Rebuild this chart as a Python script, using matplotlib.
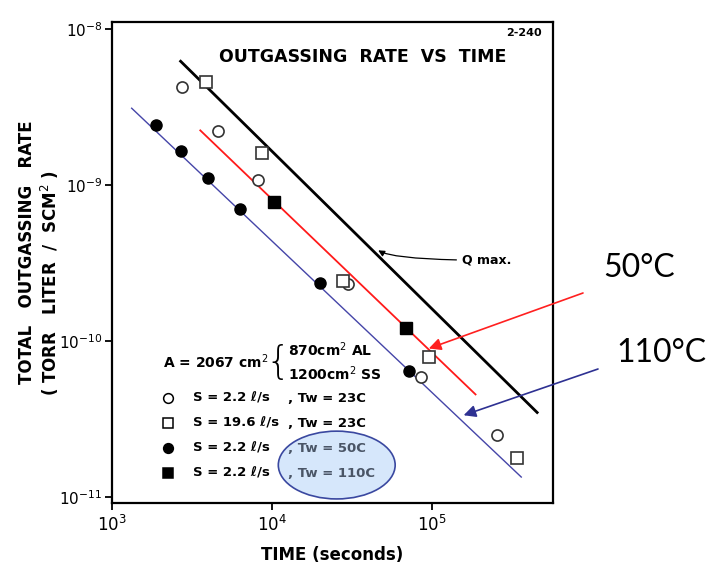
import matplotlib
matplotlib.use('Agg')
import matplotlib.pyplot as plt
import matplotlib.ticker as ticker
from matplotlib.patches import Ellipse, ConnectionPatch

# data (time in s, rate in torr l / s cm2)
t_open_circle = [2760, 4620, 8190, 30000, 85400, 2.57e5]
q_open_circle = [4.25e-9, 2.22e-9, 1.08e-9, 2.32e-10, 5.9e-11, 2.5e-11]
t_open_square = [3890, 8670, 28000, 95500, 3.4e5]
q_open_square = [4.57e-9, 1.6e-9, 2.43e-10, 7.9e-11, 1.78e-11]
t_fill_circle = [1876, 2720, 4000, 6300, 20000, 72000]
q_fill_circle = [2.43e-9, 1.65e-9, 1.11e-9, 7.1e-10, 2.35e-10, 6.45e-11]
t_fill_square = [10300, 69000]
q_fill_square = [7.8e-10, 1.21e-10]

qmax_t = [2690, 4.55e5]
qmax_q = [6.24e-9, 3.5e-11]
red_t = [3570, 1.875e5]
red_q = [2.25e-9, 4.57e-11]
blue_t = [1330, 3.62e5]
blue_q = [3.12e-9, 1.35e-11]

x_ticks = [1e3, 1e4, 1e5]
y_ticks = [1e-11, 1e-10, 1e-9, 1e-8]

legend_labels = ['S = 2.2 ℓ/s', 'S = 19.6 ℓ/s', 'S = 2.2 ℓ/s', 'S = 2.2 ℓ/s']
legend_tw = [', Tw = 23C', ', Tw = 23C', ', Tw = 50C', ', Tw = 110C']

fig = plt.figure(figsize=(7.17, 5.70), dpi=100)
ax = fig.add_axes([0.156, 0.1175, 0.615, 0.8435])
ax.set_xscale('log')
ax.set_yscale('log')
ax.set_xlim(1e3, 5.7e5)
ax.set_ylim(9.2e-12, 1.11e-8)

# fit lines
ax.plot(qmax_t, qmax_q, color='black', lw=2.0, zorder=2)
ax.plot(red_t, red_q, color='#ff1a1a', lw=1.3, zorder=2)
ax.plot(blue_t, blue_q, color='#4545a8', lw=1.0, zorder=2)

ms = 8
ax.plot(t_open_circle, q_open_circle, 'o', ms=ms, mfc='white', mec='#333333', mew=1.2, zorder=3)
ax.plot(t_open_square, q_open_square, 's', ms=ms, mfc='white', mec='#333333', mew=1.2, zorder=3)
ax.plot(t_fill_circle, q_fill_circle, 'o', ms=ms, color='black', zorder=3)
ax.plot(t_fill_square, q_fill_square, 's', ms=ms, color='black', zorder=3)

# axes styling
for s in ax.spines.values():
    s.set_linewidth(1.6)
ax.set_xticks(x_ticks)
ax.set_yticks(y_ticks)
ax.xaxis.set_minor_locator(ticker.NullLocator())
ax.yaxis.set_minor_locator(ticker.NullLocator())
ax.xaxis.set_major_formatter(ticker.LogFormatterMathtext())
ax.yaxis.set_major_formatter(ticker.LogFormatterMathtext())
ax.tick_params(direction='out', length=5, width=1.3, labelsize=11)
ax.tick_params(axis='y', pad=2)
ax.tick_params(axis='x', labelsize=12)
ax.set_xlabel('TIME (seconds)', fontsize=12, fontweight='bold', labelpad=8)

fig.text(0.0377, 0.558, 'TOTAL   OUTGASSING   RATE', rotation=90, ha='center', va='center',
         fontsize=12, fontweight='bold')
fig.text(0.0697, 0.504, '( TORR   LITER  /  SCM$^2$ )', rotation=90, ha='center', va='center',
         fontsize=12, fontweight='bold')

ax.text(0.569, 0.927, 'OUTGASSING  RATE  VS  TIME', transform=ax.transAxes, ha='center',
        va='center', fontsize=12.5, fontweight='bold')
ax.text(0.975, 0.977, '2-240', transform=ax.transAxes, ha='right', va='center',
        fontsize=8, fontweight='bold')

# Q max annotation
ax.annotate('Q max.', xy=(46200, 3.83e-10), xytext=(0.794, 0.505), textcoords='axes fraction',
            fontsize=9, fontweight='bold', va='center', ha='left',
            arrowprops=dict(arrowstyle='-|>', color='black', lw=0.9,
                            connectionstyle='angle3,angleA=0,angleB=-30', shrinkA=2, shrinkB=0))

# area text with brace
ax.text(0.116, 0.293, 'A = 2067 cm$^2$', transform=ax.transAxes, fontsize=10,
        fontweight='bold', va='center')
ax.text(0.376, 0.291, '{', transform=ax.transAxes, fontsize=28, va='center', ha='center',
        fontweight='light')
ax.text(0.399, 0.318, '870cm$^2$ AL', transform=ax.transAxes, fontsize=10,
        fontweight='bold', va='center')
ax.text(0.399, 0.270, '1200cm$^2$ SS', transform=ax.transAxes, fontsize=10,
        fontweight='bold', va='center')

# hand-drawn legend
leg_markers = [('o', 'white'), ('s', 'white'), ('o', 'black'), ('s', 'black')]
leg_y = [0.218, 0.166, 0.114, 0.062]
for (m, fc), y, lab, tw in zip(leg_markers, leg_y, legend_labels, legend_tw):
    ax.plot([0.127], [y], m, ms=7, mfc=fc, mec='black', mew=1.1, transform=ax.transAxes,
            clip_on=False, zorder=4)
    ax.text(0.184, y, lab, transform=ax.transAxes, fontsize=9.5, fontweight='bold', va='center')
    col = '#4a5566' if tw.endswith(('50C', '110C')) else 'black'
    ax.text(0.40, y, tw, transform=ax.transAxes, fontsize=9.5, fontweight='bold', va='center',
            color=col, zorder=5)

ax.add_patch(Ellipse((0.510, 0.079), 0.265, 0.141, transform=ax.transAxes,
                     facecolor='#d6e7fb', edgecolor='#3a48a0', lw=1.2, zorder=1))

# temperature call-outs outside the plot
for tail, tip, col in [((583, 277), (95700, 9.0e-11), '#ff2020'),
                       ((598, 201), (1.58e5, 3.36e-11), '#2e3192')]:
    cp = ConnectionPatch(xyA=tail, coordsA='figure pixels', xyB=tip, coordsB='data', axesB=ax,
                         arrowstyle='-|>', color=col, lw=1.2, mutation_scale=18,
                         shrinkA=0, shrinkB=0)
    fig.add_artist(cp)
fig.text(603 / 717, 1 - 268 / 570, '50°C', fontsize=23, family='Lato', va='center', ha='left')
fig.text(616 / 717, 1 - 353 / 570, '110°C', fontsize=23, family='Lato', va='center', ha='left')

fig.savefig('out.png', dpi=100)
